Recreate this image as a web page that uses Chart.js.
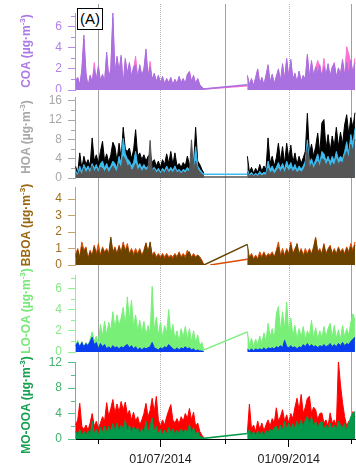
<!DOCTYPE html>
<html>
<head>
<meta charset="utf-8">
<script src="https://cdn.jsdelivr.net/npm/chart.js@4.4.1/dist/chart.umd.min.js"></script>
<style>
  body { margin: 0; background: #fff; }
  #fig { position: relative; width: 356px; height: 472px; overflow: hidden; font-family: 'Liberation Sans', Arial, sans-serif; }
  #fig canvas { position: absolute; left: 0; }
  .ytitle { position: absolute; left: 26px; white-space: nowrap; font-weight: bold; font-size: 12px; line-height: 1;
            transform: translate(-50%, -50%) rotate(-90deg); z-index: 2; }
  .ytitle sup { font-size: 8px; vertical-align: 5px; line-height: 0; }
  #tag { position: absolute; left: 77px; top: 8px; width: 24px; height: 20px; border: 1px solid #000; background: #fff;
         font-size: 15px; line-height: 20px; text-align: center; z-index: 2; }
</style>
</head>
<body>
<div id="fig">
  <div id="tag">(A)</div>
</div>
<script>
// ---------------------------------------------------------------------------
// Data (one value per day)
// Days are counted from 01/06/2014; segment A starts 21 May, segment B 11 Aug
// ---------------------------------------------------------------------------

const startA = -11;
const startB = 72;
const gapDays = [51, 72];
const orangeGapDays = [54, 72];

const monthDays = [0, 30, 61, 92, 122];       // 01/06 .. 01/10
const xLabelDays = [30, 92];
const xLabels = ['01/07/2014', '01/09/2014'];

// COA
const coaA = [0.9,1.2,0.5,1.9,5.2,1.6,0.3,1.4,0.8,2.0,1.0,
  2.3,0.9,1.5,0.8,3.6,1.2,2.0,7.3,1.6,3.2,
  1.8,3.3,0.5,3.0,1.6,2.6,1.3,2.2,2.4,1.2,
  2.4,1.4,2.0,3.9,1.3,2.2,1.0,1.6,0.8,1.4,
  0.7,1.3,0.6,1.1,0.7,1.2,0.5,1.0,0.6,1.3,
  0.7,1.1,0.6,1.5,1.7,0.8,1.4,0.6,1.1,0.5,
  0.3,0.1];
const coaB = [1.4,0.5,1.1,0.4,1.2,2.0,0.6,1.2,0.5,1.4,
  2.4,0.7,1.5,0.6,1.3,2.0,0.8,2.5,1.0,3.0,
  1.2,2.9,1.0,1.6,0.7,1.8,0.8,1.4,1.0,3.4,
  1.2,2.8,1.3,2.2,1.5,2.4,1.2,2.2,1.4,2.5,
  1.3,2.2,2.5,1.2,2.1,1.5,2.9,1.3,2.6,1.5,
  2.8,1.6,2.6];
const coaGap = [0.1, 0.5];
const coa2A = [0.8,1.1,0.4,1.7,4.8,1.5,0.3,1.3,0.7,2.6,0.9,
  2.1,0.8,1.4,0.7,3.3,1.1,1.9,6.8,1.5,3.0,
  1.7,3.1,0.5,2.8,1.5,2.5,1.2,2.0,3.2,1.1,
  2.2,1.3,1.9,3.6,1.2,2.7,0.9,1.5,0.8,1.3,
  0.7,1.2,0.6,1.0,0.7,1.1,0.5,1.0,0.6,1.2,
  0.7,1.0,0.6,1.4,1.8,0.8,1.3,0.6,1.0,0.5,
  0.3,0.1];
const coa2B = [1.3,0.5,1.0,0.4,1.1,1.9,0.6,1.1,0.5,1.3,
  2.2,0.7,1.4,0.6,1.2,1.9,0.8,2.3,1.0,2.8,
  1.2,2.7,1.0,1.5,0.7,1.7,0.8,1.3,1.0,3.2,
  1.2,2.6,1.3,2.1,2.8,2.2,1.2,3.0,1.4,2.3,
  1.3,2.0,2.6,1.2,2.0,1.5,2.7,1.3,4.1,3.4,
  2.6,1.6,3.0];
const coa2Gap = [0.1, 0.4];

// HOA
const hoaA = [2.4,1.0,5.2,2.0,4.5,2.8,3.8,2.5,8.3,3.5,4.8,
  3.0,5.5,7.6,3.5,5.0,3.2,4.8,7.4,6.4,3.5,
  7.2,4.0,10.5,6.0,5.5,6.2,4.0,5.8,10.0,4.5,
  5.2,3.8,4.8,3.5,4.5,5.0,3.2,3.8,2.5,3.5,
  2.2,3.8,2.8,5.0,3.0,5.5,2.8,5.2,2.5,3.0,
  2.2,3.2,2.5,4.5,2.8,3.2,2.8,10.5,3.5,2.8,
  1.8,1.0];
const hoaB = [4.5,1.2,2.2,1.0,2.0,1.2,2.8,1.4,2.5,1.8,
  8.3,3.0,4.5,2.5,4.2,7.2,3.5,6.5,3.0,7.2,
  4.0,6.8,3.2,5.2,2.8,4.5,3.0,4.2,5.5,13.4,
  5.0,7.0,4.5,6.5,9.3,5.0,11.4,12.1,6.0,9.0,
  5.5,8.7,6.5,10.5,6.5,9.5,7.0,11.0,13.1,9.0,
  12.5,10.5,13.5];
const hoa2A = [1.5,0.8,2.5,1.2,2.8,1.8,2.5,1.5,3.0,2.0,2.8,
  1.6,3.0,3.5,2.0,3.0,1.8,2.5,3.5,3.0,2.0,
  4.5,3.0,8.2,5.0,4.0,3.5,2.5,3.2,5.5,2.5,
  3.0,2.0,2.8,2.0,2.5,2.2,1.8,2.2,1.5,2.0,
  1.2,2.0,1.5,2.5,1.5,2.2,1.6,2.5,1.4,1.8,
  1.2,1.8,1.5,2.2,1.6,2.5,2.0,6.5,2.5,1.8,
  1.2,0.8];
const hoa2B = [1.8,0.6,1.2,0.5,1.0,0.6,1.4,0.8,1.2,1.0,
  3.5,1.8,2.5,1.5,2.2,3.2,2.0,3.0,1.8,3.5,
  2.2,3.2,1.8,2.8,1.6,2.5,1.8,2.5,3.5,7.9,
  3.0,4.0,2.6,3.8,5.0,3.0,5.5,5.0,3.5,4.5,
  3.2,4.5,3.5,5.5,3.8,4.5,4.0,5.5,7.5,5.0,
  9.0,7.0,10.2];
const hoa2Gap = [0.8, 0.8];
const hoa3A = [1.0,0.5,1.5,0.6,2.0,1.0,1.8,0.8,2.5,1.2,2.0,
  1.0,2.2,2.0,1.2,2.0,1.0,1.8,2.5,1.8,1.2,
  3.0,2.0,4.5,3.8,2.5,2.8,1.5,2.0,3.0,1.5,
  2.2,1.2,2.0,1.5,2.0,7.8,1.5,1.8,1.0,1.5,
  0.8,1.5,1.0,1.8,1.0,1.6,1.0,1.8,1.0,1.4,
  0.8,1.4,1.0,1.6,1.2,7.9,1.5,3.5,1.8,1.2,
  0.8,0.4];
const hoa3B = [1.2,0.3,0.8,0.3,0.6,0.3,0.8,0.4,0.7,0.5,
  2.0,1.0,1.5,0.8,1.4,2.0,1.2,2.0,1.0,2.2,
  1.4,2.0,1.2,1.8,1.0,1.6,1.2,1.6,2.5,6.5,
  2.0,3.0,1.8,2.8,3.5,2.2,4.0,3.8,2.5,3.5,
  2.2,3.2,2.5,4.0,2.8,3.5,3.0,4.5,5.5,4.0,
  7.0,5.5,8.0];
const hoa3Gap = [0.2, 0.2];

// BBOA
const bboaA = [0.5,0.9,0.4,1.1,0.8,1.0,0.3,0.8,0.5,1.1,0.6,
  0.9,0.5,1.0,0.7,0.9,0.6,1.7,0.7,1.0,0.6,
  1.1,0.7,1.2,0.8,1.1,0.6,0.9,0.5,0.8,0.6,
  0.9,0.5,0.8,1.3,0.7,1.4,0.5,0.7,0.4,0.6,
  0.4,0.6,0.3,0.6,0.4,0.5,0.3,0.6,0.4,0.7,
  0.4,0.6,0.3,0.7,0.8,0.4,0.6,0.4,0.6,0.4,
  0.2,0.0];
const bboaB = [1.25,0.4,0.6,0.3,0.5,0.3,0.6,0.4,0.7,0.4,
  0.6,0.5,0.7,0.4,0.8,1.1,0.5,0.8,0.5,0.9,
  0.6,1.2,0.6,0.9,1.3,0.6,0.9,0.5,0.8,0.6,
  0.9,0.6,1.0,1.6,0.7,0.9,0.6,1.2,0.6,0.9,
  1.1,0.6,0.9,0.6,1.0,0.7,0.9,0.6,1.0,0.7,
  1.1,0.8,1.2];
const bboaGap = [0.0, 1.25];
const bboa2A = [0.6,1.0,0.5,1.4,0.9,1.1,0.4,0.9,0.6,1.2,0.7,
  1.3,0.6,1.1,0.8,1.0,0.7,1.6,0.8,1.1,0.7,
  1.2,0.8,1.4,0.9,1.3,0.7,1.0,0.7,1.0,0.7,
  1.0,0.6,0.9,1.35,0.8,1.3,0.6,0.8,0.5,0.7,
  0.5,0.7,0.5,0.7,0.5,0.6,0.5,0.7,0.5,0.8,
  0.5,0.7,0.5,0.9,0.7,0.5,0.7,0.5,0.6,0.5,
  0.3,0.0];
const bboa2B = [0.35,0.5,0.7,0.4,0.6,0.4,0.8,0.5,0.8,0.5,
  0.7,0.6,0.8,0.5,0.9,1.4,0.6,1.0,0.6,1.0,
  0.7,1.4,0.7,1.0,1.2,0.7,1.0,0.6,1.0,0.7,
  1.0,0.7,1.1,1.7,0.8,1.0,0.7,1.3,0.7,1.0,
  1.2,0.7,1.0,0.7,1.1,0.8,1.0,0.7,1.1,0.8,
  1.3,0.9,1.4];
const bboa2Gap = [0.0, 0.35];

// LO-OA
const looA = [0.6,1.1,0.5,1.0,0.4,0.9,0.6,1.2,1.9,1.0,1.5,
  0.8,2.6,1.5,2.9,1.6,2.8,2.0,3.8,2.2,3.5,
  2.5,3.2,4.2,2.5,5.2,3.0,4.9,2.4,3.5,2.0,
  3.0,1.8,2.9,1.6,2.5,1.8,6.2,2.0,3.3,1.6,
  2.8,1.4,2.5,1.8,4.0,1.6,2.6,1.2,2.0,1.0,
  2.2,1.4,2.4,1.2,2.2,1.0,2.0,0.9,1.6,0.6,
  0.9,0.2];
const looB = [1.9,0.6,1.3,0.5,1.2,0.7,1.5,0.8,1.8,1.0,
  2.7,1.4,2.2,1.2,3.6,4.3,2.0,3.8,2.2,4.7,
  1.8,3.2,1.5,2.5,1.2,2.2,1.4,2.4,1.2,2.0,
  1.5,3.0,1.3,2.3,1.2,2.0,1.3,2.4,1.4,2.2,
  2.7,1.4,2.5,1.3,2.1,1.2,2.5,1.4,2.2,1.6,
  2.8,3.6,3.0];
const looGap = [0.2, 1.9];
const loo2A = [0.6,0.9,0.5,0.9,0.5,0.8,0.6,1.0,1.4,0.7,0.9,
  0.3,0.8,0.5,0.7,0.3,0.5,0.3,0.6,0.4,0.5,
  0.3,0.5,0.4,0.6,0.7,0.4,0.6,0.3,0.5,0.2,
  0.4,0.2,0.4,0.3,0.4,0.5,0.9,0.4,0.3,0.2,
  0.4,0.3,0.5,0.4,0.7,0.5,0.3,0.2,0.4,0.2,
  0.4,0.3,0.5,0.3,0.4,0.2,0.3,0.1,0.2,0.1,
  0.1,0.0];
const loo2B = [0.3,0.1,0.3,0.1,0.3,0.2,0.3,0.2,0.4,0.2,
  0.4,0.3,0.4,0.3,0.5,0.4,0.6,0.4,1.1,0.5,
  0.4,0.6,0.4,0.5,0.3,0.5,0.4,0.7,0.5,0.8,
  0.5,0.7,0.5,0.6,0.4,0.6,0.5,0.7,0.5,0.6,
  0.8,0.5,0.7,0.5,0.8,0.6,0.9,0.6,0.8,0.7,
  1.0,1.2,1.4];

// MO-OOA
const mooA = [1.2,0.6,1.5,0.5,1.2,0.6,1.3,0.5,2.8,0.8,1.5,
  0.6,1.8,1.0,2.0,1.0,2.0,1.2,2.4,1.3,2.5,
  1.2,2.2,1.5,3.0,1.2,2.2,1.0,2.0,1.2,1.8,
  0.8,1.6,1.0,2.8,1.0,2.0,3.3,1.2,2.0,0.8,
  1.5,0.7,1.4,0.8,1.8,1.0,1.6,0.7,1.4,0.8,
  1.6,0.9,1.5,1.0,2.3,0.9,1.8,0.6,1.2,0.4,
  0.3,0.1];
const mooB = [0.9,1.5,0.5,1.2,0.4,1.3,0.6,1.2,0.5,1.3,
  1.0,1.5,1.2,1.8,2.0,1.2,2.2,1.4,2.8,1.5,
  2.5,1.5,2.4,1.6,2.8,1.8,3.0,1.8,3.0,3.6,
  2.2,3.5,2.0,2.8,1.8,2.5,2.8,1.5,2.2,1.4,
  2.5,1.6,2.2,1.5,2.8,2.2,1.8,2.4,1.5,2.5,
  3.5,4.1,4.3];
const mooGap = [0.1, 0.85];
const moo2A = [2.2,3.0,5.6,2.0,1.5,2.2,1.4,2.5,4.0,2.0,2.8,
  1.6,2.5,3.5,2.8,5.7,3.5,4.8,6.2,4.0,5.5,
  4.2,5.9,4.5,5.8,3.8,4.5,3.0,4.2,2.8,3.5,
  2.2,3.0,4.0,5.6,3.5,4.5,6.4,4.2,6.7,3.0,
  2.0,3.0,2.2,3.5,4.5,5.4,3.0,2.5,3.2,2.4,
  3.5,2.8,4.0,3.2,4.8,3.0,4.2,2.0,2.5,1.2,
  0.6,0.2];
const moo2B = [1.0,5.5,1.5,2.2,1.2,2.8,1.5,2.5,1.3,2.2,
  3.0,2.0,3.2,2.5,4.9,2.8,3.5,4.6,2.8,3.8,
  2.5,4.0,3.2,5.0,6.4,4.5,7.0,4.0,5.0,6.4,
  6.7,4.0,5.0,4.6,3.0,4.0,4.1,2.5,3.0,2.0,
  4.1,2.5,3.0,2.0,12.2,8.5,5.7,3.5,2.0,2.8,
  1.8,4.3,3.5];

// Axis ticks
const coaTicks = [0, 2, 4, 6],        coaMinor = [1, 3, 5, 7];
const hoaTicks = [0, 4, 8, 12, 16],   hoaMinor = [2, 6, 10, 14];
const bboaTicks = [0, 1, 2, 3, 4],    bboaMinor = [];
const looTicks = [0, 2, 4, 6],        looMinor = [1, 3, 5, 7];
const mooTicks = [0, 4, 8, 12],       mooMinor = [2, 6, 10];

// ---------------------------------------------------------------------------
// Helpers
// ---------------------------------------------------------------------------

Chart.defaults.font.family = "'Liberation Sans', Arial, sans-serif";

function series(start, values, color) {
  return {
    data: values.map((v, i) => ({ x: start + i, y: v })),
    borderColor: color,
    backgroundColor: color,
    borderWidth: 1,
    fill: 'origin',
    pointRadius: 0,
    tension: 0,
  };
}

function gapLine(days, values, color) {
  return {
    data: days.map((d, i) => ({ x: d, y: values[i] })),
    borderColor: color,
    borderWidth: 1.5,
    fill: false,
    pointRadius: 0,
    tension: 0,
  };
}

// vertical month lines, behind the data, running over the full canvas height
const monthLines = {
  id: 'monthLines',
  beforeDatasetsDraw(chart, args, opts) {
    const { ctx } = chart;
    const x = chart.scales.x;
    const y0 = opts.from ?? 0;
    const y1 = opts.to === 'area' ? chart.chartArea.bottom : chart.height;
    ctx.save();
    ctx.lineWidth = 1;
    monthDays.forEach((d, i) => {
      const px = Math.round(x.getPixelForValue(d)) + 0.5;
      ctx.strokeStyle = i % 2 ? '#b4b4b4' : '#a0a0a0';
      ctx.setLineDash(i % 2 ? [1, 1] : []);
      ctx.beginPath();
      ctx.moveTo(px, y0);
      ctx.lineTo(px, y1);
      ctx.stroke();
    });
    ctx.restore();
  },
};

// short minor ticks on the y axis (and on the time axis of the last panel)
const minorTicks = {
  id: 'minorTicks',
  afterDraw(chart, args, opts) {
    const { ctx } = chart;
    const y = chart.scales.y;
    ctx.save();
    ctx.lineWidth = 1;
    ctx.strokeStyle = opts.color;
    (opts.values || []).forEach(v => {
      if (v > y.max) return;
      const py = Math.round(y.getPixelForValue(v)) + 0.5;
      ctx.beginPath();
      ctx.moveTo(y.right - 4, py);
      ctx.lineTo(y.right, py);
      ctx.stroke();
    });
    if (opts.months) {
      const x = chart.scales.x;
      ctx.strokeStyle = '#000';
      opts.months.forEach(d => {
        const px = Math.round(x.getPixelForValue(d)) + 0.5;
        ctx.beginPath();
        ctx.moveTo(px, x.top);
        ctx.lineTo(px, x.top + 5);
        ctx.stroke();
      });
    }
    ctx.restore();
  },
};

// ---------------------------------------------------------------------------
// Panels
// ---------------------------------------------------------------------------

const panels = [
  {
    top: 0, height: 92, pad: [13, 2], max: 7.3, ticks: coaTicks, minor: coaMinor,
    axis: '#b98ae8', label: '#b282e6', title: 'COA', titleColor: '#ad7be6', titleY: 51, from: 4,
    datasets: [
      series(startA, coaA, '#a970e0'), series(startB, coaB, '#a970e0'), gapLine(gapDays, coaGap, '#a970e0'),
      series(startA, coa2A, '#ff6fd2'), series(startB, coa2B, '#ff6fd2'), gapLine(gapDays, coa2Gap, '#ff6fd2'),
    ],
  },
  {
    top: 92, height: 89, pad: [5, 3], max: 16.77, ticks: hoaTicks, minor: hoaMinor,
    axis: '#a8a8a8', label: '#a8a8a8', title: 'HOA', titleColor: '#a8a8a8', titleY: 137,
    datasets: [
      series(startA, hoa3A, '#555555'), series(startB, hoa3B, '#555555'), gapLine(gapDays, hoa3Gap, '#555555'),
      series(startA, hoa2A, '#3dbcf0'), series(startB, hoa2B, '#3dbcf0'), gapLine(gapDays, hoa2Gap, '#3dbcf0'),
      series(startA, hoaA, '#000000'), series(startB, hoaB, '#000000'),
    ],
  },
  {
    top: 181, height: 87, pad: [6, 3], max: 4.73, ticks: bboaTicks, minor: bboaMinor,
    axis: '#c4a272', label: '#a07020', title: 'BBOA', titleColor: '#9a6812', titleY: 225,
    datasets: [
      series(startA, bboaA, '#6a4300'), series(startB, bboaB, '#6a4300'), gapLine(gapDays, bboaGap, '#6a4300'),
      series(startA, bboa2A, '#dc4a00'), series(startB, bboa2B, '#dc4a00'), gapLine(orangeGapDays, bboa2Gap, '#dc4a00'),
    ],
  },
  {
    top: 268, height: 87, pad: [7, 3], max: 7.26, ticks: looTicks, minor: looMinor,
    axis: '#8ef08e', label: '#86ea86', title: 'LO-OA', titleColor: '#78e878', titleY: 311,
    datasets: [
      series(startA, loo2A, '#0a3cf0'), series(startB, loo2B, '#0a3cf0'),
      series(startA, looA, '#78f078'), series(startB, looB, '#78f078'), gapLine(gapDays, looGap, '#78f078'),
    ],
  },
  {
    top: 355, height: 117, pad: [7, 0], max: 12.09, ticks: mooTicks, minor: mooMinor,
    axis: '#5cbf8a', label: '#45b070', title: 'MO-OOA', titleColor: '#16a050', titleY: 405, bottom: true,
    datasets: [
      series(startA, mooA, '#009a4a'), series(startB, mooB, '#009a4a'), gapLine(gapDays, mooGap, '#009a4a'),
      series(startA, moo2A, '#ff0000'), series(startB, moo2B, '#ff0000'),
    ],
  },
];

const fig = document.getElementById('fig');

panels.forEach(p => {
  const canvas = document.createElement('canvas');
  canvas.width = 356;
  canvas.height = p.height;
  canvas.style.top = p.top + 'px';
  fig.appendChild(canvas);

  const title = document.createElement('div');
  title.className = 'ytitle';
  title.style.top = p.titleY + 'px';
  title.style.color = p.titleColor;
  title.innerHTML = `${p.title} (µg·m<sup>-3</sup>)`;
  fig.appendChild(title);

  new Chart(canvas, {
    type: 'line',
    data: { datasets: p.datasets },
    options: {
      responsive: false,
      animation: false,
      devicePixelRatio: 1,
      events: [],
      layout: { padding: { top: p.pad[0], bottom: p.pad[1], left: 0, right: 0 } },
      plugins: {
        legend: { display: false },
        tooltip: { enabled: false },
        monthLines: { from: p.from ?? 0, to: p.bottom ? 'area' : 'canvas' },
        minorTicks: { values: p.minor, color: p.axis, months: p.bottom ? [0, 61, 122] : null },
      },
      scales: {
        x: {
          type: 'linear',
          min: -11.3,
          max: 124.5,
          display: !!p.bottom,
          afterBuildTicks: s => { s.ticks = xLabelDays.map(v => ({ value: v })); },
          afterFit: s => {
            s.height = p.bottom ? 33 : 0;
            s.paddingLeft = 0;
            s.paddingRight = 0;
          },
          border: { color: '#000', width: 1 },
          grid: { drawOnChartArea: false, tickLength: 8, tickColor: '#000', color: '#000' },
          ticks: {
            color: '#222',
            font: { size: 12.5 },
            padding: 5,
            maxRotation: 0,
            autoSkip: false,
            callback: (v, i) => xLabels[i],
          },
        },
        y: {
          min: 0,
          max: p.max,
          afterBuildTicks: s => { s.ticks = p.ticks.map(v => ({ value: v })); },
          afterFit: s => { s.width = 75; s.paddingTop = 0; s.paddingBottom = 0; },
          border: { color: p.axis, width: 1 },
          grid: { drawOnChartArea: false, tickLength: 7, tickColor: p.axis, color: p.axis },
          ticks: { color: p.label, font: { size: 12 }, padding: 6, callback: v => v },
        },
      },
    },
    plugins: [monthLines, minorTicks],
  });
});
</script>
</body>
</html>
